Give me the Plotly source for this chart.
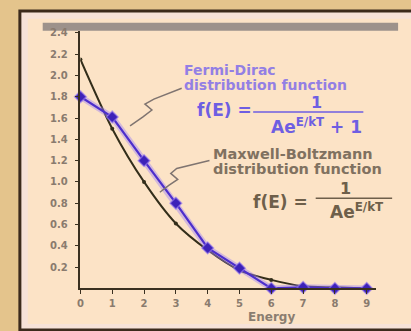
import plotly.graph_objects as go

W, H = 411, 331

energy = [0, 1, 2, 3, 4, 5, 6, 7, 8, 9]
fermi_dirac = [1.8, 1.61, 1.2, 0.8, 0.38, 0.19, 0.0, 0.01, 0.0, 0.0]
maxwell_boltzmann = [2.15, 1.5, 1.0, 0.61, 0.36, 0.17, 0.08, 0.02, 0.01, 0.0]
y_ticks = [0.2, 0.4, 0.6, 0.8, 1.0, 1.2, 1.4, 1.6, 1.8, 2.0, 2.2, 2.4]
y_tick_text = ["0.2", "0.4", "0.6", "0.8", "1.0", "1.2", "1.4", "1.6", "1.8", "2.0", "2.2", "2.4"]
x_ticks = [0, 1, 2, 3, 4, 5, 6, 7, 8, 9]


def px(x):
    return x / W


def py(y):
    return 1 - y / H


fig = go.Figure()

# Maxwell-Boltzmann curve
fig.add_trace(go.Scatter(
    x=energy, y=maxwell_boltzmann, mode="lines+markers",
    line=dict(color="#332e1a", width=2, shape="spline", smoothing=0.8),
    marker=dict(color="#332e1a", size=4),
    showlegend=False, hoverinfo="skip"))

# Fermi-Dirac glow + line
fig.add_trace(go.Scatter(
    x=energy, y=fermi_dirac, mode="lines",
    line=dict(color="rgba(160,130,245,0.45)", width=6),
    showlegend=False, hoverinfo="skip"))
fig.add_trace(go.Scatter(
    x=energy, y=fermi_dirac, mode="lines+markers",
    line=dict(color="#4d2fcc", width=2.2),
    marker=dict(color="#3d22b8", size=9, symbol="diamond",
                line=dict(color="rgba(150,120,240,0.6)", width=1.5)),
    showlegend=False, hoverinfo="skip", cliponaxis=False))

shapes = []
# parchment frame
shapes.append(dict(type="rect", xref="paper", yref="paper",
                   x0=px(17), x1=px(430), y0=py(330), y1=py(8),
                   fillcolor="#f6e2d8", line=dict(color="#3b2a1c", width=3), layer="below"))
shapes.append(dict(type="rect", xref="paper", yref="paper",
                   x0=px(25), x1=px(430), y0=py(324), y1=py(16),
                   fillcolor="#fce3c6", line=dict(width=0), layer="below"))
# gray top bar
shapes.append(dict(type="rect", xref="paper", yref="paper",
                   x0=px(40), x1=px(398), y0=py(28), y1=py(20),
                   fillcolor="#9d928b", line=dict(width=0), layer="below"))


def path(points):
    s = "M {} {}".format(px(points[0][0]), py(points[0][1]))
    for p in points[1:]:
        s += " L {} {}".format(px(p[0]), py(p[1]))
    return s


# leader lines
shapes.append(dict(type="path", xref="paper", yref="paper",
                   path=path([(180, 86), (152, 97), (143, 102), (150, 108), (141, 115), (128, 124)]),
                   line=dict(color="#7f7470", width=1.5)))
shapes.append(dict(type="path", xref="paper", yref="paper",
                   path=path([(208, 159), (175, 167), (169, 172), (176, 178), (167, 184), (158, 191)]),
                   line=dict(color="#7f7470", width=1.5)))

FD_LABEL = "#937fe4"
FD_FORM = "#6e5ee2"
MB_LABEL = "#807160"
MB_FORM = "#6e5f4a"
FONT = "DejaVu Sans"

# fraction bars
shapes.append(dict(type="line", xref="paper", yref="paper",
                   x0=px(252), x1=px(363), y0=py(110), y1=py(110),
                   line=dict(color=FD_FORM, width=1.5)))
shapes.append(dict(type="line", xref="paper", yref="paper",
                   x0=px(315), x1=px(392), y0=py(197), y1=py(197),
                   line=dict(color=MB_FORM, width=1.5)))

annotations = []


def txt(text, x, y, color, size, xanchor="left", bold=True):
    annotations.append(dict(text=("<b>" + text + "</b>") if bold else text,
                            x=px(x), y=py(y), xref="paper", yref="paper",
                            xanchor=xanchor, yanchor="middle", showarrow=False,
                            font=dict(family=FONT, size=size, color=color)))


txt("Fermi-Dirac", 180, 68, FD_LABEL, 14)
txt("distribution function", 180, 83, FD_LABEL, 14)
txt("f(E) =", 193, 108, FD_FORM, 17)
txt("1", 316, 100, FD_FORM, 16, "center")
txt("Ae<sup>E/kT</sup> + 1", 268, 124, FD_FORM, 17)

txt("Maxwell-Boltzmann", 210, 152, MB_LABEL, 14.5)
txt("distribution function", 210, 168, MB_LABEL, 14.5)
txt("f(E) =", 250, 201, MB_FORM, 17)
txt("1", 345, 187, MB_FORM, 16, "center")
txt("Ae<sup>E/kT</sup>", 327, 210, MB_FORM, 17)

txt("Energy", 270, 317, "#8a7d70", 12, "center")

fig.update_layout(
    width=W, height=H,
    margin=dict(l=0, r=0, t=0, b=0, pad=0),
    paper_bgcolor="#e4c48c",
    plot_bgcolor="rgba(0,0,0,0)",
    shapes=shapes,
    annotations=annotations,
    xaxis=dict(domain=[px(78), px(376)], range=[0, 9.3],
               tickmode="array", tickvals=x_ticks, ticktext=["<b>%d</b>" % v for v in x_ticks],
               showgrid=False, zeroline=False, showline=True, linecolor="#3a3020", linewidth=1.5,
               ticks="outside", ticklen=4, tickcolor="#3a3020", ticklabelstandoff=1,
               tickfont=dict(family=FONT, size=10, color="#8a7b6e")),
    yaxis=dict(domain=[1 - 288 / H, 1 - 28 / H], range=[0, 2.42],
               tickmode="array", tickvals=y_ticks, ticktext=["<b>%s</b>" % t for t in y_tick_text],
               showgrid=False, zeroline=False, showline=True, linecolor="#3a3020", linewidth=1.5,
               ticks="outside", ticklen=4, tickcolor="#3a3020", ticklabelstandoff=5,
               tickfont=dict(family=FONT, size=10, color="#8a7b6e")),
)

fig.write_html("out.html",
               config={"displayModeBar": False},
               post_script="document.body.style.margin='0';document.body.style.overflow='hidden';")
